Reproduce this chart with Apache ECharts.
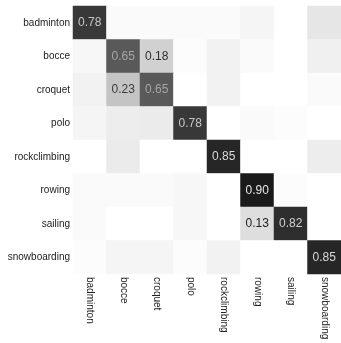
<!DOCTYPE html>
<html>
<head>
<meta charset="utf-8">
<script src="https://cdn.jsdelivr.net/npm/echarts@6/dist/echarts.min.js"></script>
<style>
  html, body { margin: 0; padding: 0; background: #ffffff; }
  #chart { width: 341px; height: 343px; }
</style>
</head>
<body>
<div id="chart"></div>
<script>
// Class names (true class on rows, predicted class on columns)
const classes = ['badminton', 'bocce', 'croquet', 'polo', 'rockclimbing', 'rowing', 'sailing', 'snowboarding'];

// Normalised confusion matrix, one array per true class
const badminton    = [0.78, 0.02, 0.02, 0.02, 0.02, 0.04, 0.00, 0.10];
const bocce        = [0.03, 0.65, 0.18, 0.01, 0.05, 0.02, 0.00, 0.06];
const croquet      = [0.05, 0.23, 0.65, 0.00, 0.05, 0.00, 0.00, 0.02];
const polo         = [0.04, 0.07, 0.08, 0.78, 0.00, 0.02, 0.01, 0.00];
const rockclimbing = [0.00, 0.08, 0.00, 0.00, 0.85, 0.00, 0.00, 0.07];
const rowing       = [0.02, 0.02, 0.02, 0.03, 0.00, 0.90, 0.01, 0.00];
const sailing      = [0.02, 0.00, 0.00, 0.03, 0.00, 0.13, 0.82, 0.00];
const snowboarding = [0.01, 0.04, 0.04, 0.01, 0.05, 0.00, 0.00, 0.85];

const rows = [badminton, bocce, croquet, polo, rockclimbing, rowing, sailing, snowboarding];

// Annotations appear only on cells above this share
const labelThreshold = 0.1;

const font = '"Liberation Sans", Arial, Helvetica, sans-serif';

// Text is drawn in the inverted gray of its cell
function textGray(v) {
  const g = Math.round(255 * v);
  return 'rgb(' + g + ',' + g + ',' + g + ')';
}

const cells = [];
rows.forEach(function (row, r) {
  row.forEach(function (v, c) {
    cells.push({
      value: [c, r, v],
      label: { color: textGray(v) }
    });
  });
});

const chart = echarts.init(document.getElementById('chart'), null, { renderer: 'canvas' });
chart.setOption({
  animation: false,
  backgroundColor: '#ffffff',
  grid: { left: 73, top: 6, width: 268, height: 268, containLabel: false },
  xAxis: {
    type: 'category',
    data: classes,
    axisLine: { show: false },
    axisTick: { show: false },
    splitLine: { show: false },
    axisLabel: {
      rotate: -90,
      interval: 0,
      margin: 3,
      fontFamily: font,
      fontSize: 10,
      color: '#222222'
    }
  },
  yAxis: {
    type: 'category',
    data: classes,
    inverse: true,
    axisLine: { show: false },
    axisTick: { show: false },
    splitLine: { show: false },
    axisLabel: {
      interval: 0,
      margin: 3,
      fontFamily: font,
      fontSize: 10,
      color: '#222222'
    }
  },
  visualMap: {
    show: false,
    type: 'continuous',
    min: 0,
    max: 1,
    dimension: 2,
    inRange: { color: ['#ffffff', '#000000'] }
  },
  series: [{
    type: 'heatmap',
    data: cells,
    itemStyle: { borderWidth: 0 },
    emphasis: { disabled: true },
    label: {
      show: true,
      fontFamily: font,
      fontSize: 12,
      formatter: function (p) {
        const v = p.value[2];
        return v > labelThreshold ? v.toFixed(2) : '';
      }
    }
  }]
});
</script>
</body>
</html>
